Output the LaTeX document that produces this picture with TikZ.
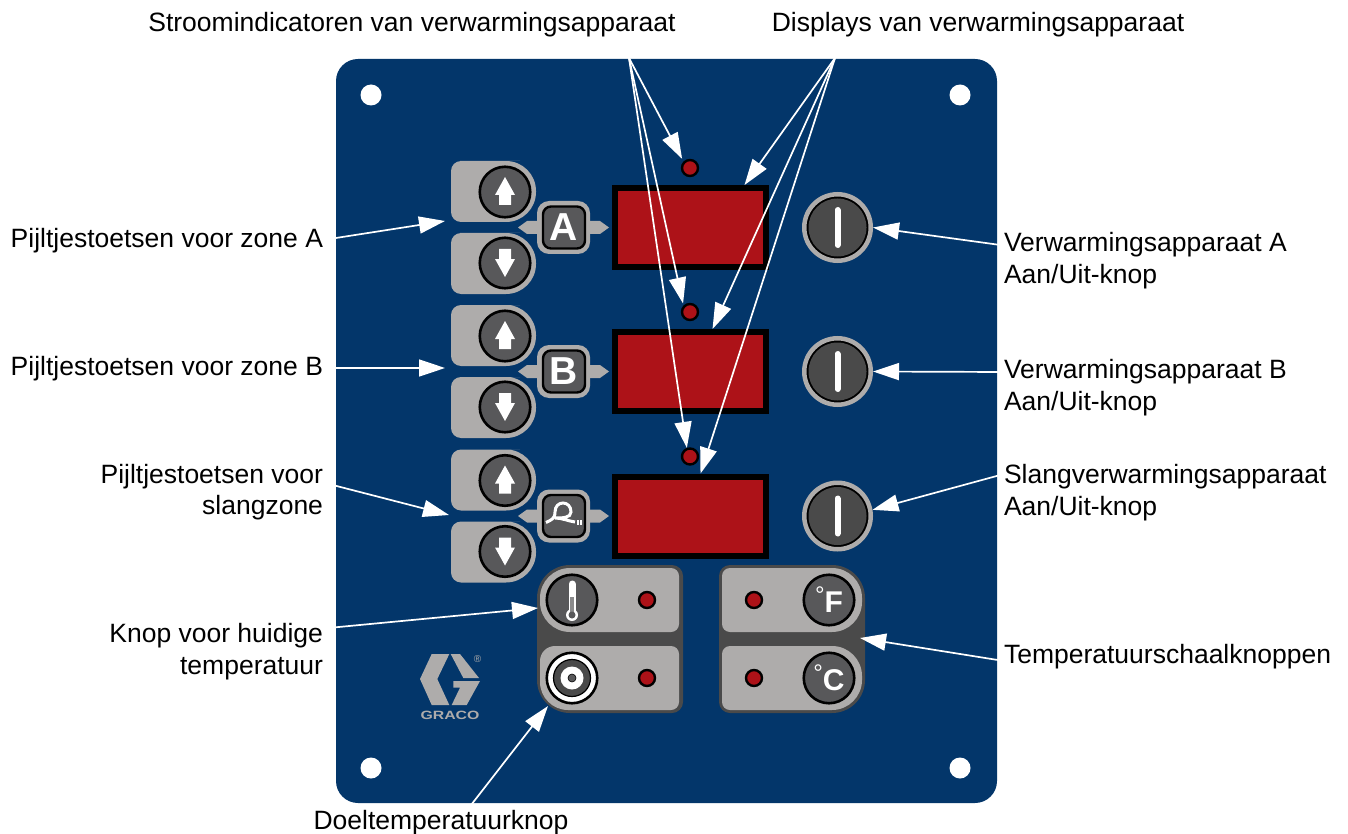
\documentclass[tikz,border=0pt]{standalone}
\usepackage{fontspec}
\setmainfont{Liberation Sans}
\usetikzlibrary{positioning, shapes, arrows.meta}
\definecolor{panelblue}{HTML}{03366A}
\definecolor{keygrey}{HTML}{AEACAB}
\definecolor{groupdark}{HTML}{4A4A4A}
\definecolor{knobgrey}{HTML}{58585A}
\definecolor{ledred}{HTML}{AD1218}
\tikzset{
    lbl/.style={font=\fontsize{26.5}{31.5}\selectfont, inner sep=0pt, outer sep=0pt},
    callout/.style={draw=white, line width=1.7pt, -{Triangle[length=26pt,width=17pt,fill=white]}},
    knob/.style={circle, draw=black, line width=2.6pt, fill=knobgrey, minimum size=50.5pt, inner sep=0pt},
    led/.style={circle, draw=black, line width=2.4pt, fill=ledred, minimum size=16pt, inner sep=0pt},
    display/.style={draw=black, line width=6pt, fill=ledred, minimum width=151pt, minimum height=79pt, inner sep=0pt},
    powerknob/.style={circle, draw=keygrey, line width=4.5pt, fill=black, minimum size=66.5pt, inner sep=0pt},
    selbox/.style={fill=keygrey, rounded corners=12pt, minimum size=53pt, inner sep=0pt},
    selkey/.style={draw=black, line width=2.4pt, fill=knobgrey, rounded corners=8pt, minimum size=42pt, inner sep=0pt, text=white, font=\fontsize{39}{39}\selectfont\bfseries},
    degkey/.style={knob, text=white, font=\fontsize{30}{30}\selectfont\bfseries}
}
\begin{document}
\begin{tikzpicture}[x=1pt, y=-1pt]
    \useasboundingbox (0,0) rectangle (1348,834);

    % Panel
    \fill[panelblue, rounded corners=22pt] (336,59) rectangle (997,803);
    \foreach \hx/\hy in {371/95, 960/95, 371/768, 960/768}
        \fill[white] (\hx,\hy) circle (10.5);

    % Zone rows
    \foreach \row/\dy/\lab in {a/0/A, b/144/B, c/288.5/{}} {
        \begin{scope}[shift={(0,\dy)}]
            \fill[keygrey] (490,161) [rounded corners=10pt] -- (451,161) -- (451,222) [rounded corners=30pt] -- (536,222) -- (536,161) -- cycle;
            \fill[keygrey] (490,233) [rounded corners=10pt] -- (451,233) -- (451,294) [rounded corners=30pt] -- (536,294) -- (536,233) -- cycle;
            \node[knob] (knobup\row) at (505,192) {};
            \node[knob] (knobdown\row) at (505,263) {};
            \fill[white] (505,177) -- (515,195) -- (511,195) -- (511,205) -- (499,205) -- (499,195) -- (495,195) -- cycle;
            \fill[white] (505,277) -- (515,259) -- (511,259) -- (511,249) -- (499,249) -- (499,259) -- (495,259) -- cycle;
            % selector
            \fill[keygrey] (518,227.5) -- (527,221) -- (600,221) -- (609,227.5) -- (600,234) -- (527,234) -- cycle;
            \node[selbox] (selbg\row) at (563.5,227.5) {};
            \node[selkey] (sel\row) at (564,227.5) {\lab};
            % display
            \node[display] (disp\row) at (690.5,227.5) {};
            \node[led] (led\row) at (690,168) {};
            \node[powerknob] (power\row) at (837.5,227.5) {};
            \node[circle, fill=groupdark, minimum size=58pt, inner sep=0pt] (powerin\row) at (837.5,227.5) {};
            \draw[white, line width=6pt, line cap=round] (837.5,210) -- (837.5,245);
        \end{scope}
    }

    % Hose symbol
    \draw[white, line width=3pt] (546,522.5) .. controls (551,520) and (555,519) .. (555,512) .. controls (555,500) and (571,500) .. (571,512) .. controls (571,518) and (562,518) .. (555,518) .. controls (562,518) and (568,521) .. (575,522);
    \draw[white, line width=1.4pt] (578,520) -- (578,525) (581,520) -- (581,525);

    % Temperature keys, left
    \fill[groupdark] (610,565) [rounded corners=33pt] -- (537,565) -- (537,713) [rounded corners=11pt] -- (683,713) -- (683,565) -- cycle;
    \fill[keygrey] (610,568) [rounded corners=30pt] -- (540,568) -- (540,632) [rounded corners=8pt] -- (679,632) -- (679,568) -- cycle;
    \fill[keygrey] (610,646) [rounded corners=15pt] -- (540,646) [rounded corners=28pt] -- (540,710) [rounded corners=8pt] -- (679,710) -- (679,646) -- cycle;
    \node[knob] (curknob) at (572,600) {};
    \node[knob, fill=white] (setknob) at (572,678) {};
    \node[led] (ledcur) at (647,600) {};
    \node[led] (ledset) at (647,678) {};
    % thermometer
    \fill[white] (572,615) circle (6);
    \draw[white, line width=7pt, line cap=round] (572,584) -- (572,612);
    \draw[knobgrey!70!white, line width=3.5pt] (572,597) -- (572,612);
    \fill[knobgrey] (572,615) circle (3.5);
    % target rings
    \node[circle, draw=black, line width=1.2pt, fill=groupdark, minimum size=37pt, inner sep=0pt] (setring) at (572,678) {};
    \node[circle, fill=white, minimum size=23pt, inner sep=0pt] (setwhite) at (572,678) {};
    \node[circle, draw=black, line width=.6pt, fill=knobgrey, minimum size=8pt, inner sep=0pt] (setdot) at (572,678) {};

    % Temperature keys, right
    \fill[groupdark] (790,565) [rounded corners=11pt] -- (719,565) -- (719,713) [rounded corners=33pt] -- (865,713) -- (865,565) -- cycle;
    \fill[keygrey] (790,568) [rounded corners=8pt] -- (722,568) -- (722,632) [rounded corners=30pt] -- (862,632) -- (862,568) -- cycle;
    \fill[keygrey] (790,646) [rounded corners=8pt] -- (722,646) -- (722,710) [rounded corners=30pt] -- (862,710) -- (862,646) -- cycle;
    \node[degkey] (fkey) at (829,600) {\raisebox{9pt}{\fontsize{24}{24}\selectfont\mdseries °}F};
    \node[degkey] (ckey) at (829,678) {\raisebox{9pt}{\fontsize{24}{24}\selectfont\mdseries °}C};
    \node[led] (ledfahr) at (754,600) {};
    \node[led] (ledcels) at (754,678) {};

    % Logo
    \fill[keygrey] (420,679) -- (431.7,654) -- (449.3,654) -- (437.3,679) -- (449.3,705) -- (431.7,705) -- cycle;
    \fill[keygrey] (450.7,654) -- (460,654) -- (479,678) -- (463.3,678) -- cycle;
    \fill[keygrey] (453.3,681) -- (480,681) -- (466.7,705) -- (451.7,705) -- (460,687.7) -- (453.3,687.7) -- cycle;
    \node[text=keygrey, font=\fontsize{12}{12}\selectfont\bfseries, xscale=1.32, inner sep=0pt] (logoname) at (450,715) {GRACO};
    \node[text=keygrey, font=\fontsize{10}{10}\selectfont, inner sep=0pt] (logomark) at (477.5,659) {®};

    % Labels
    \node[lbl] (lblstroom) at (412,25) {Stroomindicatoren van verwarmingsapparaat};
    \node[lbl] (lbldisplay) at (978,25) {Displays van verwarmingsapparaat};
    \node[lbl, anchor=east] (lblzonea) at (323,241) {Pijltjestoetsen voor zone A};
    \node[lbl, anchor=east] (lblzoneb) at (323,369) {Pijltjestoetsen voor zone B};
    \node[lbl, anchor=east, align=right] (lblzonec) at (323,492) {Pijltjestoetsen voor\\slangzone};
    \node[lbl, anchor=east, align=right] (lblcur) at (323,651.5) {Knop voor huidige\\temperatuur};
    \node[lbl] (lblset) at (441,823) {Doeltemperatuurknop};
    \node[lbl, anchor=west, align=left] (lblheata) at (1004,260.5) {Verwarmingsapparaat A\\Aan/Uit-knop};
    \node[lbl, anchor=west, align=left] (lblheatb) at (1004,387.5) {Verwarmingsapparaat B\\Aan/Uit-knop};
    \node[lbl, anchor=west, align=left] (lblheatc) at (1004,492.5) {Slangverwarmingsapparaat\\Aan/Uit-knop};
    \node[lbl, anchor=west] (lblscale) at (1004,657) {Temperatuurschaalknoppen};

    % Callouts
    \coordinate (stroomtop) at (629,58);
    \coordinate (displaytop) at (835,58);
    \coordinate (tipzonea) at (445,221);
    \coordinate (tipzoneb) at (445,368);
    \coordinate (tipzonec) at (449,515);
    \coordinate (tipcur) at (538,608);
    \coordinate (tipset) at (548,706);
    \coordinate (tipscale) at (860,638);

    \draw[callout, shorten >=3pt] (stroomtop) -- (leda.135);
    \draw[callout, shorten >=2pt] (stroomtop) -- (ledb.135);
    \draw[callout] (stroomtop) -- (ledc.110);
    \draw[callout] (displaytop) -- ([xshift=54pt]dispa.north);
    \draw[callout] (displaytop) -- ([xshift=22pt]dispb.north);
    \draw[callout] (displaytop) -- ([xshift=10pt]dispc.north);
    \draw[callout] ([yshift=1pt]lblzonea.east) -- (tipzonea);
    \draw[callout] ([yshift=1pt]lblzoneb.east) -- (tipzoneb);
    \draw[callout] ([yshift=9.5pt]lblzonec.east) -- (tipzonec);
    \draw[callout] ([yshift=23pt]lblcur.east) -- (tipcur);
    \draw[callout] ([xshift=28pt,yshift=3pt]lblset.north) -- (tipset);
    \draw[callout] ([yshift=15pt]lblheata.west) -- (powera.east);
    \draw[callout] ([yshift=15.5pt]lblheatb.west) -- (powerb.east);
    \draw[callout] ([yshift=18.5pt]lblheatc.west) -- (powerc.10);
    \draw[callout] ([yshift=-4pt]lblscale.west) -- (tipscale);
\end{tikzpicture}
\end{document}
